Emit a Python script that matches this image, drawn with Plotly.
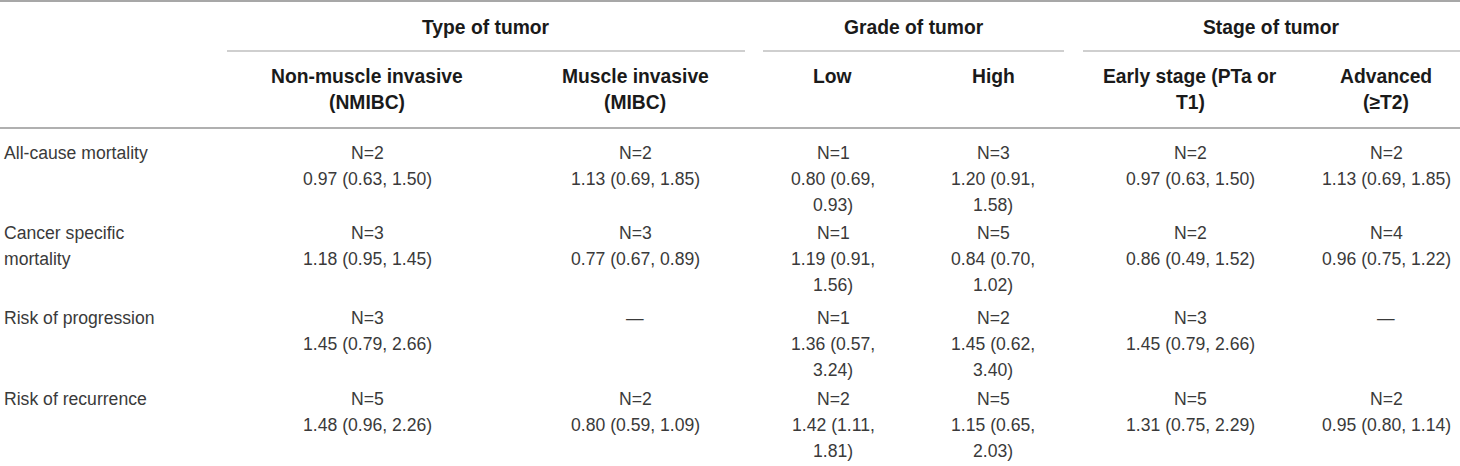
import plotly.graph_objects as go

# ---- table content ----
groups = ["Type of tumor", "Grade of tumor", "Stage of tumor"]
subgroups = [["Non-muscle invasive", "(NMIBC)"], ["Muscle invasive", "(MIBC)"],
             ["Low"], ["High"],
             ["Early stage (PTa or", "T1)"], ["Advanced", "(≥T2)"]]
outcomes = [["All-cause mortality"], ["Cancer specific", "mortality"],
            ["Risk of progression"], ["Risk of recurrence"]]

n_studies = [[2, 2, 1, 3, 2, 2],
             [3, 3, 1, 5, 2, 4],
             [3, None, 1, 2, 3, None],
             [5, 2, 2, 5, 5, 2]]
hr = [[0.97, 1.13, 0.80, 1.20, 0.97, 1.13],
      [1.18, 0.77, 1.19, 0.84, 0.86, 0.96],
      [1.45, None, 1.36, 1.45, 1.45, None],
      [1.48, 0.80, 1.42, 1.15, 1.31, 0.95]]
ci_low = [[0.63, 0.69, 0.69, 0.91, 0.63, 0.69],
          [0.95, 0.67, 0.91, 0.70, 0.49, 0.75],
          [0.79, None, 0.57, 0.62, 0.79, None],
          [0.96, 0.59, 1.11, 0.65, 0.75, 0.80]]
ci_high = [[1.50, 1.85, 0.93, 1.58, 1.50, 1.85],
           [1.45, 0.89, 1.56, 1.02, 1.52, 1.22],
           [2.66, None, 3.24, 3.40, 2.66, None],
           [2.26, 1.09, 1.81, 2.03, 2.29, 1.14]]

# ---- layout (pixels) ----
W, H = 1460, 466
col_x = [367, 635, 833, 993, 1190, 1386]
narrow = [False, False, True, True, False, False]
group_span = [(227, 745), (763, 1064), (1083, 1460)]
row_top = [153, 233, 318, 399]
line_h = 26
font_body = "Liberation Sans, Arial, sans-serif"
body_col = "#3a3a3a"
head_col = "#1a1a1a"
fs_body = 17.6
fs_head = 19.3

annotations = []
shapes = []


def txt(x, y, s, bold=False, anchor="center"):
    annotations.append(dict(
        x=x, y=y, xref="x", yref="y", text=f"<b>{s}</b>" if bold else s,
        showarrow=False, xanchor=anchor, yanchor="middle",
        font=dict(family=font_body, size=fs_head if bold else fs_body,
                  color=head_col if bold else body_col)))


def hline(x0, x1, y, w=1.2, c="#9a9a9a"):
    shapes.append(dict(type="line", xref="x", yref="y", x0=x0, x1=x1, y0=y, y1=y,
                       line=dict(color=c, width=w)))


# rules
hline(0, W, 1, 1.5, "#8a8a8a")
for x0, x1 in group_span:
    hline(x0, x1, 51, 1.2, "#a0a0a0")
hline(0, W, 128, 2.2, "#b0b0b0")

# group headers
for g, (x0, x1) in zip(groups, group_span):
    txt((x0 + x1) / 2, 27, g, bold=True)

# sub headers
for x, lines in zip(col_x, subgroups):
    for i, s in enumerate(lines):
        txt(x, 76 + i * line_h, s, bold=True)

# body
for r, lab in enumerate(outcomes):
    for i, s in enumerate(lab):
        txt(2, row_top[r] + i * line_h, s, anchor="left")
    for c, x in enumerate(col_x):
        if n_studies[r][c] is None:
            txt(x, row_top[r], "—")
            continue
        lines = [f"N={n_studies[r][c]}"]
        if narrow[c]:
            lines += [f"{hr[r][c]:.2f} ({ci_low[r][c]:.2f},", f"{ci_high[r][c]:.2f})"]
        else:
            lines += [f"{hr[r][c]:.2f} ({ci_low[r][c]:.2f}, {ci_high[r][c]:.2f})"]
        for i, s in enumerate(lines):
            txt(x, row_top[r] + i * line_h, s)

fig = go.Figure()
fig.update_layout(
    width=W, height=H, margin=dict(l=0, r=0, t=0, b=0),
    paper_bgcolor="white", plot_bgcolor="white",
    xaxis=dict(range=[0, W], visible=False, fixedrange=True),
    yaxis=dict(range=[H, 0], visible=False, fixedrange=True),
    annotations=annotations, shapes=shapes, showlegend=False,
)

fig.write_html("out.html", config={"displayModeBar": False},
               post_script="document.body.style.margin='0px';")
